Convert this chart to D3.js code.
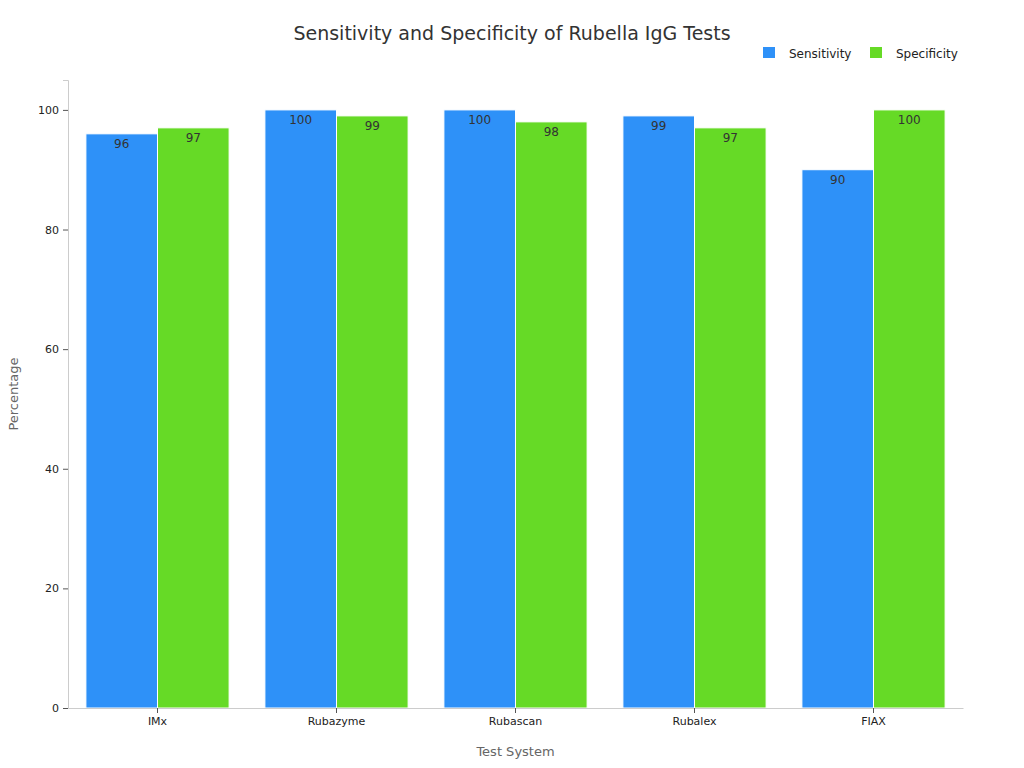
<!DOCTYPE html>
<html><head><meta charset="utf-8">
<script src="https://cdn.jsdelivr.net/npm/d3@7"></script>
<style>body{margin:0;background:#fff;font-family:"DejaVu Sans",sans-serif}</style>
</head><body>
<svg id="chart" width="1024" height="768"></svg>
<script>
var categories = ["IMx", "Rubazyme", "Rubascan", "Rubalex", "FIAX"];
var sensitivity = [96, 100, 100, 99, 90];
var specificity = [97, 99, 98, 97, 100];
var seriesNames = ["Sensitivity", "Specificity"];
var colors = ["#2e91f8", "#66da26"];
var yTicks = [0, 20, 40, 60, 80, 100];

var svg = d3.select("#chart");
var m = {left: 68, right: 963, top: 80, bottom: 708};

var x = d3.scaleBand().domain(categories).range([m.left, m.right]).paddingInner(0.2).paddingOuter(0.1);
var x1 = d3.scaleBand().domain(seriesNames).range([0, x.bandwidth()]);
var y = d3.scaleLinear().domain([0, 105]).range([m.bottom, m.top]);

var data = [sensitivity, specificity];

// bars
data.forEach(function(vals, s) {
  var g = svg.append("g");
  g.selectAll("rect").data(vals).enter().append("rect")
    .attr("x", function(d, i) { return x(categories[i]) + x1(seriesNames[s]); })
    .attr("y", function(d) { return y(d); })
    .attr("width", x1.bandwidth())
    .attr("height", function(d) { return y(0) - y(d); })
    .attr("fill", colors[s])
    .attr("stroke", "#fff").attr("stroke-width", 1);
  g.selectAll("text").data(vals).enter().append("text")
    .attr("x", function(d, i) { return x(categories[i]) + x1(seriesNames[s]) + x1.bandwidth() / 2; })
    .attr("y", function(d) { return y(d) + 14; })
    .attr("text-anchor", "middle")
    .attr("font-size", 12).attr("fill", "#333")
    .text(function(d) { return d; });
});

// axes
var yAxis = svg.append("g").attr("transform", "translate(" + m.left + ",0)")
  .call(d3.axisLeft(y).tickValues(yTicks).tickSize(5).tickPadding(4));
yAxis.select(".domain").attr("stroke", "#ccc");
yAxis.selectAll(".tick line").attr("stroke", "#555");
yAxis.selectAll("text").attr("font-size", 11).attr("fill", "#222").attr("font-family", "DejaVu Sans");

var xAxis = svg.append("g").attr("transform", "translate(0," + m.bottom + ")")
  .call(d3.axisBottom(x).tickSize(5).tickPadding(4).tickSizeOuter(0));
xAxis.select(".domain").attr("stroke", "#ccc");
xAxis.selectAll(".tick line").attr("stroke", "#555");
xAxis.selectAll("text").attr("font-size", 11).attr("fill", "#222").attr("font-family", "DejaVu Sans");

// titles
svg.append("text").attr("x", 512).attr("y", 40).attr("text-anchor", "middle")
  .attr("font-size", 19).attr("fill", "#333").text("Sensitivity and Specificity of Rubella IgG Tests");
svg.append("text").attr("x", (m.left + m.right) / 2).attr("y", 756).attr("text-anchor", "middle")
  .attr("font-size", 13).attr("fill", "#666").text("Test System");
svg.append("text").attr("transform", "translate(18," + ((m.top + m.bottom) / 2) + ") rotate(-90)")
  .attr("text-anchor", "middle").attr("font-size", 13).attr("fill", "#666").text("Percentage");

// legend
var legX = [763, 870];
seriesNames.forEach(function(n, i) {
  svg.append("rect").attr("x", legX[i]).attr("y", 47).attr("width", 12).attr("height", 11).attr("fill", colors[i]);
  svg.append("text").attr("x", legX[i] + 26).attr("y", 58).attr("font-size", 12).attr("fill", "#222").text(n);
});
</script>
</body></html>
